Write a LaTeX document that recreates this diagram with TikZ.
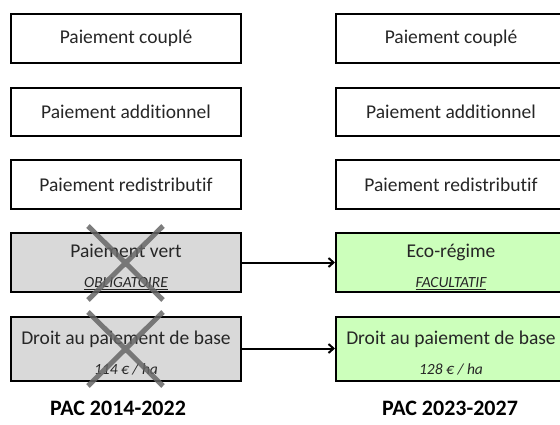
\documentclass[tikz,border=0pt]{standalone}
\usepackage{fontspec}
\setmainfont{Carlito}[Ligatures=NoCommon]
\usetikzlibrary{arrows.meta}
\definecolor{boxgray}{HTML}{D9D9D9}
\definecolor{boxgreen}{HTML}{CCFFBB}
\definecolor{txt}{HTML}{262626}
% smaller italic second line inside a box
\newcommand\subtxt{\fontsize{15.5}{18}\selectfont\itshape}
% strut lowering the first of two lines
\newcommand\topstrut{\rule{0pt}{23pt}}
\begin{document}
\begin{tikzpicture}[x=1pt,y=-1pt,
  pbox/.style={draw=black,line width=2pt,minimum width=230pt,inner sep=0pt,text=txt,align=center,font=\fontsize{19.5}{23}\selectfont},
  oldbox/.style={pbox,fill=boxgray},
  newbox/.style={pbox,fill=boxgreen},
  cross/.style={draw=gray!80!black,line width=5pt,opacity=0.85},
  link/.style={draw=black,line width=2pt,-{Straight Barb[length=5pt,width=9pt]}},
  title/.style={font=\fontsize{22}{26}\selectfont\bfseries,text=black}]
\useasboundingbox (0,0) rectangle (560,425);
\clip (0,0) rectangle (560,425);
% left column: PAC 2014-2022
\node[pbox,minimum height=49pt] (l1) at (126,38.5) {Paiement coupl\'e};
\node[pbox,minimum height=48pt] (l2) at (126,112) {Paiement additionnel};
\node[pbox,minimum height=49pt] (l3) at (126,184.5) {Paiement redistributif};
\node[oldbox,minimum height=59pt] (l4) at (126,262.5) {\topstrut Paiement vert\\[7pt]{\subtxt\underline{OBLIGATOIRE}}};
\node[oldbox,minimum height=64pt] (l5) at (126,348.5) {\topstrut Droit au paiement de base\\[7pt]{\subtxt 114 \texteuro{} / ha}};
% right column: PAC 2023-2027
\node[pbox,minimum height=49pt] (r1) at (451,38.5) {Paiement coupl\'e};
\node[pbox,minimum height=48pt] (r2) at (451,112) {Paiement additionnel};
\node[pbox,minimum height=49pt] (r3) at (451,184.5) {Paiement redistributif};
\node[newbox,minimum height=59pt] (r4) at (451,262.5) {\topstrut Eco-r\'egime\\[7pt]{\subtxt\underline{FACULTATIF}}};
\node[newbox,minimum height=64pt] (r5) at (451,348.5) {\topstrut Droit au paiement de base\\[7pt]{\subtxt 128 \texteuro{} / ha}};
% crossed-out schemes
\coordinate (c4a) at (88,226); \coordinate (c4b) at (163,300);
\coordinate (c4c) at (163,226); \coordinate (c4d) at (88,300);
\coordinate (c5a) at (88,312); \coordinate (c5b) at (163,386);
\coordinate (c5c) at (163,312); \coordinate (c5d) at (88,386);
\draw[cross] (c4a) -- (c4b) (c4c) -- (c4d);
\draw[cross] (c5a) -- (c5b) (c5c) -- (c5d);
% transitions
\draw[link] (l4.east) -- (r4.west);
\draw[link] (l5.east) -- (r5.west);
% column titles
\node[title] (t1) at (118,408) {PAC 2014-2022};
\node[title] (t2) at (450,408) {PAC 2023-2027};
\end{tikzpicture}
\end{document}
